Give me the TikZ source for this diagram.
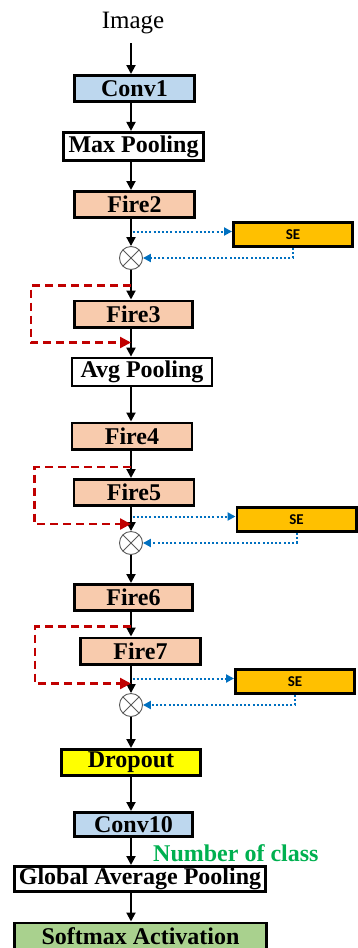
\documentclass[tikz,border=0pt]{standalone}
\usepackage{fontspec}
\setmainfont{Liberation Serif}
\newfontfamily\sefont{Carlito}
\usetikzlibrary{positioning,calc,arrows.meta}

\definecolor{convblue}{HTML}{BDD7EE}
\definecolor{firepeach}{HTML}{F8CBAD}
\definecolor{seorange}{HTML}{FFC000}
\definecolor{dropyellow}{HTML}{FFFF00}
\definecolor{softgreen}{HTML}{A9D18E}
\definecolor{classgreen}{HTML}{00B050}
\definecolor{seblue}{HTML}{0070C0}
\definecolor{skipred}{HTML}{C00000}

\begin{document}
\begin{tikzpicture}[x=1pt,y=-1pt,on grid,
   blk/.style={draw,line width=2.8pt,inner sep=0pt,minimum height=26.2pt,
               font=\fontsize{24}{28}\selectfont\bfseries},
   conv/.style={blk,fill=convblue,minimum width=120pt},
   pool/.style={blk,fill=white,minimum width=140pt,minimum height=28pt},
   fire/.style={blk,fill=firepeach,minimum width=120pt},
   sebox/.style={blk,fill=seorange,minimum width=119.2pt,minimum height=24.2pt,
               font=\sefont\bfseries\fontsize{15}{18}\selectfont},
   mul/.style={circle,draw=gray!70!black,line width=0.9pt,minimum size=23pt,inner sep=0pt,
               path picture={\draw[gray!70!black,line width=0.9pt]
                 (path picture bounding box.north west) -- (path picture bounding box.south east)
                 (path picture bounding box.north east) -- (path picture bounding box.south west);}},
   arr/.style={-{Triangle[length=9pt,width=9pt]},line width=2pt},
   seline/.style={-{Triangle[length=8pt,width=8pt]},draw=seblue,line width=2pt,
               dash pattern=on 2pt off 2.2pt},
   skip/.style={-{Triangle[length=11pt,width=11pt]},draw=skipred,line width=2.3pt,
               dash pattern=on 8pt off 5pt}]
   \useasboundingbox (0,0) rectangle (358,948);
   \coordinate (spine) at (131,0);

   % main chain
   \node[font=\fontsize{25}{30}\selectfont,inner sep=0pt] (img) at (133,23) {Image};
   \node[conv] (conv1) [below=65.5pt of img,xshift=1.5pt] {Conv1};
   \node[pool] (maxpool) [below=58pt of conv1,xshift=-1pt,minimum height=28.4pt] {Max Pooling};
   \node[fire] (fire2) [below=58pt of maxpool,xshift=1pt] {Fire2};
   \node[mul] (ot1) [below=53.5pt of fire2,xshift=-3.5pt] {};
   \node[sebox] (se1) [right=162pt of ot1,yshift=23.5pt] {SE};
   \node[fire] (fire3) [below=56pt of ot1,xshift=2.5pt,minimum width=118.2pt] {Fire3};
   \node[pool] (avgpool) [below=58pt of fire3,xshift=8.5pt] {Avg Pooling};
   \node[fire] (fire4) [below=64pt of avgpool,xshift=-10pt] {Fire4};
   \node[fire] (fire5) [below=56.5pt of fire4,xshift=2pt] {Fire5};
   \node[mul] (ot2) [below=50.5pt of fire5,xshift=-3pt] {};
   \node[sebox] (se2) [right=165.5pt of ot2,yshift=23.5pt] {SE};
   \node[fire] (fire6) [below=54.5pt of ot2,xshift=2.5pt,minimum width=118.2pt] {Fire6};
   \node[fire] (fire7) [below=53.5pt of fire6,xshift=7pt] {Fire7};
   \node[mul] (ot3) [below=54pt of fire7,xshift=-9.5pt] {};
   \node[sebox] (se3) [right=164pt of ot3,yshift=23.5pt] {SE};
   \node[blk,fill=dropyellow,minimum width=139.2pt] (dropout) [below=57.5pt of ot3] {Dropout};
   \node[conv,minimum height=24.2pt,minimum width=118.2pt] (conv10) [below=62pt of dropout,xshift=2.5pt] {Conv10};
   \node[pool,minimum width=251.2pt,minimum height=25.2pt] (gap) [below=54.5pt of conv10,xshift=6.5pt] {Global Average Pooling};
   \node[blk,fill=softgreen,minimum width=252.2pt] (softmax) [below=57pt of gap,xshift=0.5pt] {Softmax Activation};
   \node[anchor=west,inner sep=0pt,text=classgreen,font=\fontsize{24}{28}\selectfont\bfseries] (noc) at (153,853) {Number of class};

   % forward arrows
   \draw[arr,shorten <=9pt] (img.south -| spine) -- (conv1.north -| spine);
   \draw[arr] (conv1.south -| spine) -- (maxpool.north -| spine);
   \draw[arr] (maxpool.south -| spine) -- (fire2.north -| spine);
   \draw[arr] (fire2.south -| spine) -- (ot1.north);
   \draw[arr] (ot1.south) -- (fire3.north -| spine);
   \draw[arr] (fire3.south -| spine) -- (avgpool.north -| spine);
   \draw[arr] (avgpool.south -| spine) -- (fire4.north -| spine);
   \draw[arr] (fire4.south -| spine) -- (fire5.north -| spine);
   \draw[arr] (fire5.south -| spine) -- (ot2.north);
   \draw[arr] (ot2.south) -- (fire6.north -| spine);
   \draw[arr] (fire6.south -| spine) -- (fire7.north -| spine);
   \draw[arr] (fire7.south -| spine) -- (ot3.north);
   \draw[arr] (ot3.south) -- (dropout.north -| spine);
   \draw[arr] (dropout.south -| spine) -- (conv10.north -| spine);
   \draw[arr] (conv10.south -| spine) -- (gap.north -| spine);
   \draw[arr] (gap.south -| spine) -- (softmax.north -| spine);

   % squeeze-excitation branches
   \draw[seline] ($(se1.west -| spine)+(1.5,-3)$) -- ($(se1.west)+(0,-3)$);
   \draw[seline] (se1.south) |- (ot1.east);
   \draw[seline] ($(se2.west -| spine)+(1.5,-3)$) -- ($(se2.west)+(0,-3)$);
   \draw[seline] (se2.south) |- (ot2.east);
   \draw[seline] ($(se3.west -| spine)+(1.5,-3)$) -- ($(se3.west)+(0,-3)$);
   \draw[seline] (se3.south) |- (ot3.east);

   % bypass connections
   \draw[skip] ($(fire3.north -| spine)+(0,-14)$) -| ($(fire3.west)+(-42,0)$) |- ($(fire3.south -| spine)+(0,14)$);
   \draw[skip] ($(fire5.north -| spine)+(0,-11)$) -| ($(fire5.west)+(-38,0)$) |- ($(fire5.south -| spine)+(0,17)$);
   \draw[skip] ($(fire7.north -| spine)+(0,-10)$) -| ($(fire7.west)+(-44,0)$) |- ($(fire7.south -| spine)+(0,18)$);
\end{tikzpicture}
\end{document}
